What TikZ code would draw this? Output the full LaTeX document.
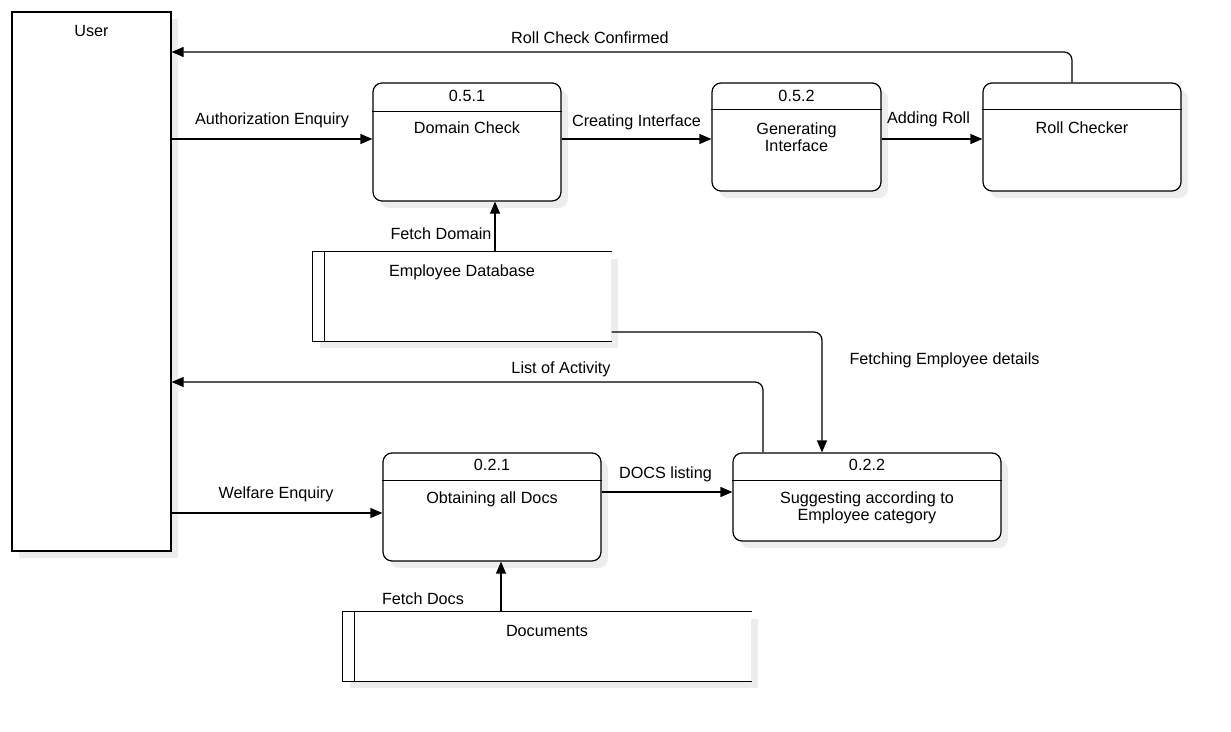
\documentclass[tikz,border=0pt]{standalone}
\usepackage{fontspec}
\setmainfont{Liberation Sans}
\usetikzlibrary{arrows.meta,shadows,positioning}

\tikzset{
  boxshadow/.style={drop shadow={shadow xshift=7pt,shadow yshift=-7pt,fill=black!7,opacity=1}},
  proc/.style={draw,fill=white,rounded corners=9pt,inner sep=0pt,boxshadow},
  entity/.style={draw,fill=white,inner sep=0pt,boxshadow},
  store/.style={fill=white,inner sep=0pt,boxshadow},
  lbl/.style={inner sep=0pt,text height=11.5pt,text depth=3.5pt,yshift=-2.5pt},
  twoline/.style={inner sep=0pt,align=center},
  flow/.style={-{Triangle[length=12pt,width=10pt]}},
  elbow/.style={flow,rounded corners=8pt}
}

\begin{document}
\begin{tikzpicture}[x=1pt,y=-1pt,line width=1.2pt,
    font=\fontsize{16.2}{17}\selectfont]
  \useasboundingbox (0,0) rectangle (1231,731);

  % external entity
  \node[entity,minimum width=159pt,minimum height=539pt] (user) at (91.5,281.5) {};
  \node[lbl] (usert) at ([yshift=-19pt]user.north) {User};

  % processes
  \node[proc,minimum width=188pt,minimum height=118pt] (dc) at (467,142) {};
  \node[proc,minimum width=169pt,minimum height=108pt] (gi) at (796.5,137) {};
  \node[proc,minimum width=198pt,minimum height=108pt] (rc) at (1082,137) {};
  \node[proc,minimum width=218pt,minimum height=108pt] (od) at (492,507) {};
  \node[proc,minimum width=268pt,minimum height=88pt] (sg) at (867,497) {};

  \draw ([yshift=-29pt]dc.north west) -- ([yshift=-29pt]dc.north east);
  \draw ([yshift=-27pt]gi.north west) -- ([yshift=-27pt]gi.north east);
  \draw ([yshift=-27pt]rc.north west) -- ([yshift=-27pt]rc.north east);
  \draw ([yshift=-28pt]od.north west) -- ([yshift=-28pt]od.north east);
  \draw ([yshift=-28pt]sg.north west) -- ([yshift=-28pt]sg.north east);

  \node[lbl] (dcn) at ([yshift=-13pt]dc.north) {0.5.1};
  \node[lbl] (dct) at ([yshift=-45pt]dc.north) {Domain Check};
  \node[lbl] (gin) at ([yshift=-13pt]gi.north) {0.5.2};
  \node[twoline] (git) at ([yshift=-55pt]gi.north) {Generating\\Interface};
  \node[lbl] (rct) at ([yshift=-45pt]rc.north) {Roll Checker};
  \node[lbl] (odn) at ([yshift=-12pt]od.north) {0.2.1};
  \node[lbl] (odt) at ([yshift=-45pt]od.north) {Obtaining all Docs};
  \node[lbl] (sgn) at ([yshift=-12pt]sg.north) {0.2.2};
  \node[twoline] (sgt) at ([yshift=-55pt]sg.north) {Suggesting according to\\Employee category};

  % data stores
  \node[store,minimum width=298pt,minimum height=89pt] (db) at (462,296.5) {};
  \draw (db.north east) -- (db.north west) -- (db.south west) -- (db.south east);
  \draw ([xshift=12pt]db.north west) -- ([xshift=12pt]db.south west);
  \node[lbl] (dbt) at ([yshift=-19pt]db.north) {Employee Database};

  \node[store,minimum width=408pt,minimum height=69pt] (docs) at (547,646.5) {};
  \draw (docs.north east) -- (docs.north west) -- (docs.south west) -- (docs.south east);
  \draw ([xshift=12pt]docs.north west) -- ([xshift=12pt]docs.south west);
  \node[lbl] (docst) at ([yshift=-19pt]docs.north) {Documents};

  % flow levels
  \coordinate (rowa) at (0,139);
  \coordinate (rowb) at (0,513);
  \coordinate (rowc) at (0,492);
  \coordinate (cola) at (495,0);
  \coordinate (colb) at (501,0);
  \coordinate (rcup) at (1072,52);
  \coordinate (fe) at (822,332);
  \coordinate (la) at (763,382);

  % flows
  \draw[flow] (user.east |- rowa) -- (dc.west |- rowa);
  \draw[flow] (dc.east |- rowa) -- (gi.west |- rowa);
  \draw[flow] (gi.east |- rowa) -- (rc.west |- rowa);
  \draw[elbow] (rc.north -| rcup) |- (user.east |- rcup);
  \draw[flow] (db.north -| cola) -- (dc.south -| cola);
  \draw[elbow] (db.east |- fe) -| (sg.north -| fe);
  \draw[elbow] (sg.north -| la) |- (user.east |- la);
  \draw[flow] (user.east |- rowb) -- (od.west |- rowb);
  \draw[flow] (od.east |- rowc) -- (sg.west |- rowc);
  \draw[flow] (docs.north -| colb) -- (od.south -| colb);

  % flow labels
  \node[lbl] (l1) at (590,37) {Roll Check Confirmed};
  \node[lbl] (l2) at (272,118) {Authorization Enquiry};
  \node[lbl] (l3) at (636.5,120) {Creating Interface};
  \node[lbl] (l4) at (928.5,117) {Adding Roll};
  \node[lbl] (l5) at (441,233) {Fetch Domain};
  \node[lbl] (l6) at (944.5,358) {Fetching Employee details};
  \node[lbl] (l7) at (561,367) {List of Activity};
  \node[lbl] (l8) at (276,492) {Welfare Enquiry};
  \node[lbl] (l9) at (665.5,472) {DOCS listing};
  \node[lbl] (l10) at (423,598) {Fetch Docs};
\end{tikzpicture}
\end{document}
